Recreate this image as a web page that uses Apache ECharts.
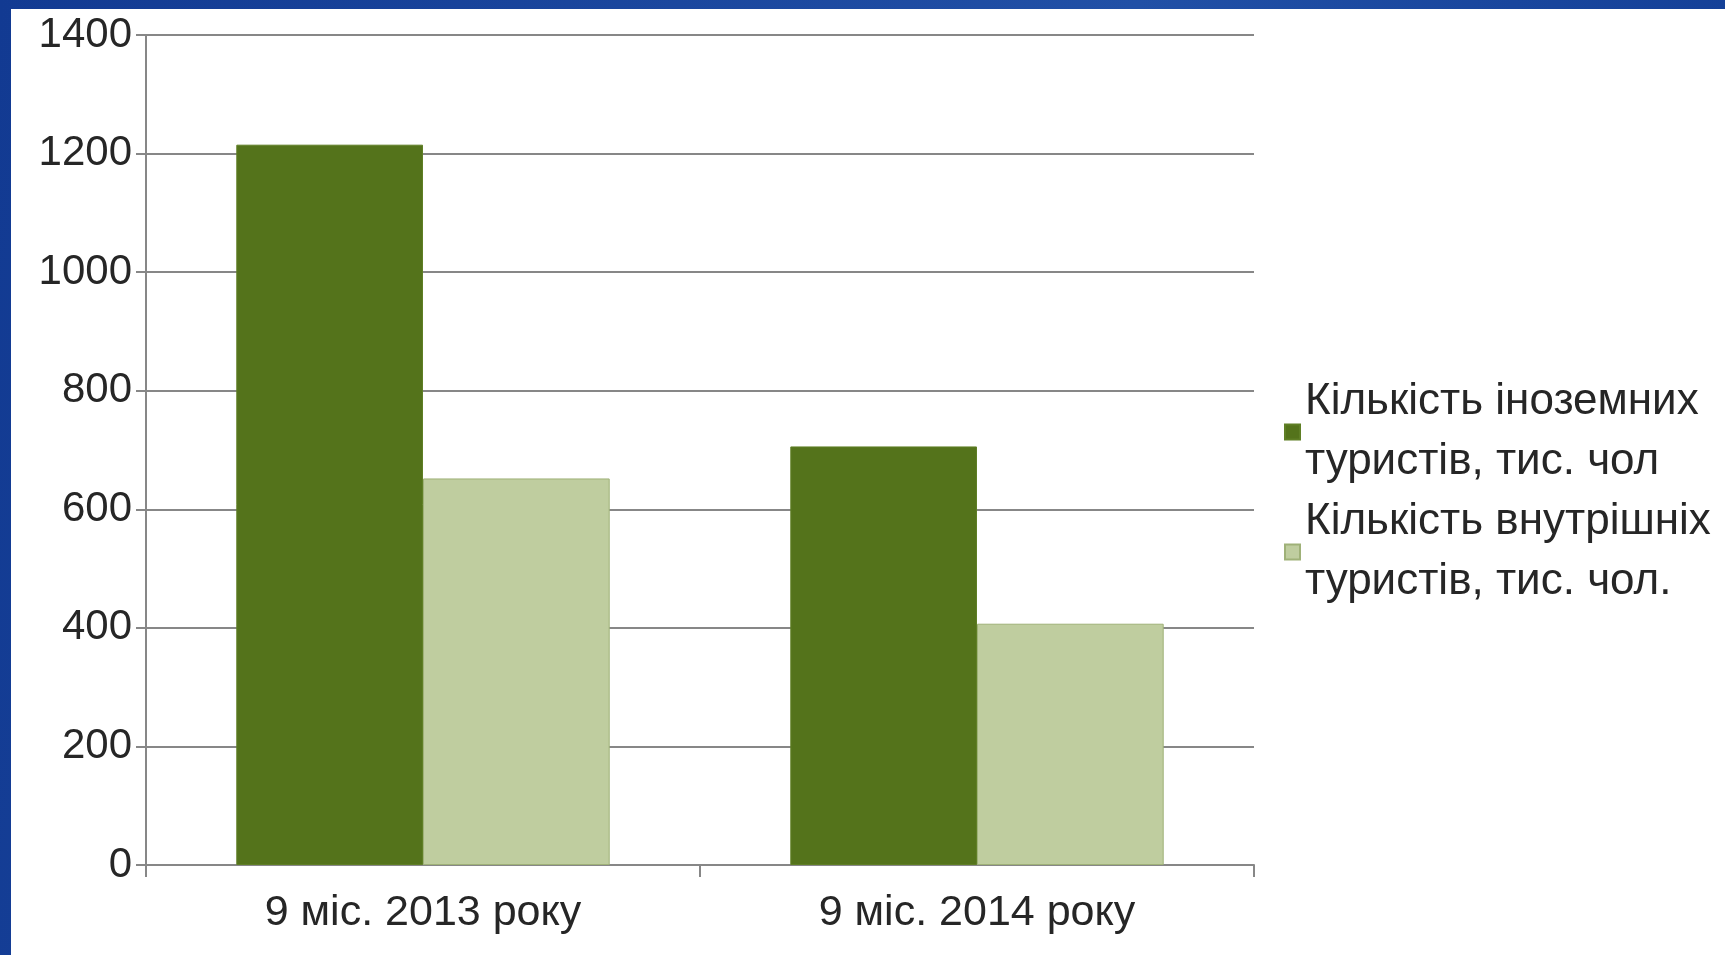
<!DOCTYPE html>
<html>
<head>
<meta charset="utf-8">
<script src="https://cdn.jsdelivr.net/npm/echarts@6/dist/echarts.min.js"></script>
<style>
  html, body { margin: 0; padding: 0; width: 1725px; height: 955px; overflow: hidden; }
  body { background: linear-gradient(100deg, #123a92 0%, #2150a6 60%, #113c94 100%); position: relative; }
  #paper { position: absolute; left: 11px; top: 9px; right: 0; bottom: 0; background: #ffffff; }
  #chart { position: absolute; left: 0; top: 0; width: 1725px; height: 955px; }
</style>
</head>
<body>
<div id="paper"></div>
<div id="chart"></div>
<script>
const categories = ['9 міс. 2013 року', '9 міс. 2014 року'];
const seriesNames = ['Кількість іноземних\nтуристів, тис. чол', 'Кількість внутрішніх\nтуристів, тис. чол.'];
const foreignTourists = [1215, 706];
const domesticTourists = [652, 407];
const yTicks = { min: 0, max: 1400, interval: 200 };

const chart = echarts.init(document.getElementById('chart'), null, { renderer: 'canvas' });
const FONT = '"Liberation Sans", Arial, sans-serif';
const TEXT = '#262626';
const LINE = '#878787';

chart.setOption({
  backgroundColor: 'transparent',
  animation: false,
  textStyle: { fontFamily: FONT },
  grid: { left: 146, right: 471, top: 35, bottom: 90, containLabel: false },
  legend: {
    orient: 'vertical',
    left: 1279,
    top: 367,
    itemWidth: 15,
    itemHeight: 15,
    itemGap: 0,
    icon: 'rect',
    data: seriesNames,
    textStyle: { fontFamily: FONT, fontSize: 44, color: TEXT, lineHeight: 60 }
  },
  xAxis: {
    type: 'category',
    data: categories,
    boundaryGap: true,
    axisLine: { show: true, lineStyle: { color: LINE, width: 2 } },
    axisTick: { show: true, length: 12, lineStyle: { color: LINE, width: 2 } },
    axisLabel: { fontFamily: FONT, fontSize: 43, color: TEXT, margin: 27 },
    splitLine: { show: false }
  },
  yAxis: {
    type: 'value',
    min: yTicks.min,
    max: yTicks.max,
    interval: yTicks.interval,
    axisLine: { show: true, lineStyle: { color: LINE, width: 2 } },
    axisTick: { show: true, length: 10, lineStyle: { color: LINE, width: 2 } },
    axisLabel: { fontFamily: FONT, fontSize: 42, color: TEXT, margin: 14, formatter: function (v) { return String(v); } },
    splitLine: { show: true, lineStyle: { color: LINE, width: 2 } }
  },
  series: [
    {
      name: seriesNames[0],
      type: 'bar',
      data: foreignTourists,
      barGap: '0%',
      barCategoryGap: '32.6%',
      itemStyle: { color: '#54731b', borderColor: '#5f7f25', borderWidth: 1 }
    },
    {
      name: seriesNames[1],
      type: 'bar',
      data: domesticTourists,
      itemStyle: { color: '#bfcd9f', borderColor: '#9fb178', borderWidth: 1 }
    }
  ]
});
</script>
</body>
</html>
